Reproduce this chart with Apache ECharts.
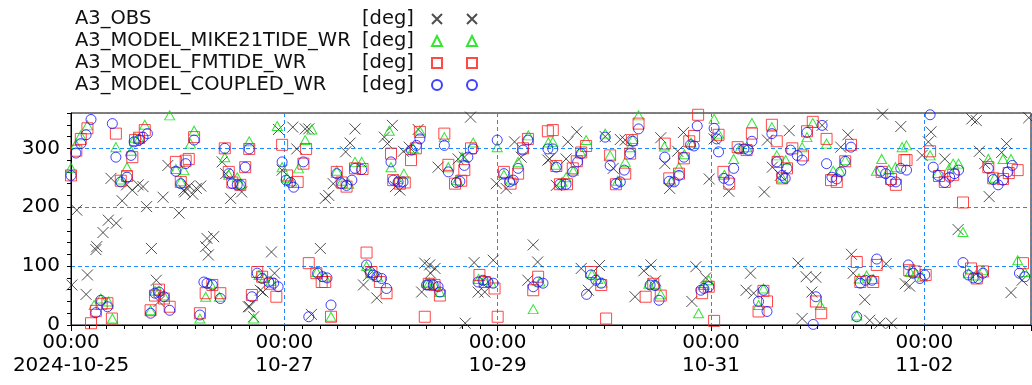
<!DOCTYPE html>
<html>
<head>
<meta charset="utf-8">
<script src="https://cdn.jsdelivr.net/npm/echarts@6/dist/echarts.min.js"></script>
<style>
  html, body { margin: 0; padding: 0; background: #fff; }
  #chart { width: 1032px; height: 385px; }
</style>
</head>
<body>
<div id="chart"></div>
<script>
// x = hours since 2024-10-25 00:00, y = direction in degrees
var seriesNames = ['A3_OBS', 'A3_MODEL_MIKE21TIDE_WR', 'A3_MODEL_FMTIDE_WR', 'A3_MODEL_COUPLED_WR'];
var unitLabel = '[deg]';
var xLabelDates = ['2024-10-25', '10-27', '10-29', '10-31', '11-02'];
var yLabelValues = [0, 100, 200, 300];

var obsDeg = [
  [0.2,68],[1.3,195],[3.4,52],[3.7,85],[5.6,128],[5.8,133],[7.2,157],[8.4,178],[9,249],[10.2,173],
  [11.5,211],[12.5,238],[13.8,229],[15.1,238],[16.2,235],[17,201],[18.1,130],[19.2,76],[19.8,40],[20.7,217],
  [21.8,271],[24.3,190],[25.4,229],[25.6,226],[26.6,236],[27.4,222],[28.2,232],[29.2,236],
  [30.3,133],[30.6,147],[30.9,119],[32.1,150],[34,277],[34.8,257],[35.9,215],[38.4,226],[39.9,31],[40.2,31],
  [41.1,14],[42.6,59],[43.2,56],[45.1,124],[45.8,88],[46.7,332],[47.5,263],[49.9,336],[50.8,299],[52.7,333],
  [53.5,333],[54.1,18],[56.1,130],[57.2,215],[58,220],[59,240],[61.8,294],[62.8,309],[63.9,333],[65.8,68],
  [66.9,84],[68.8,46],[70.5,319],[71.2,308],[72.3,339],[73,235],[74,229],[74.8,295],[76.1,302],[78.1,332],
  [78.9,56],[79.6,105],[80.7,102],[81.9,96],[80.9,88],[82.6,268],[87.1,282],[88.5,285],[89.9,353],[88.7,3],
  [90.7,106],[91.6,56],[93.1,56],[95,110],[95.7,240],[97.9,232],[99.8,311],[101.3,285],[102.8,76],[104,136],
  [105,107],[107.3,280],[107.7,282],[109.2,237],[111.4,282],[111.8,311],[113.8,328],[114.8,96],[116.4,59],[118.9,101],
  [120.2,320],[122,266],[123.6,315],[124.7,314],[126.9,48],[128.9,92],[130.5,102],[131.5,75],[132.7,318],[133.6,274],
  [134.7,232],[136.5,295],[137.8,327],[139.7,40],[140.6,99],[142.8,80],[143.6,248],[144.7,316],[148,227],[151.9,59],
  [152.9,88],[153.6,54],[156,226],[156.7,314],[157.8,268],[159.6,254],[161.6,330],[163.6,105],[164.5,11],[165.4,82],
  [166.7,56],[167.6,81],[169,339],[173.2,302],[174.8,323],[175.6,120],[176,88],[178.6,43],[179.7,8],[182,3],
  [183.4,104],[182.6,358],[184.6,3],[186.7,337],[187.7,70],[188.7,66],[191.5,288],[192.9,311],[193.5,328],[196.6,282],
  [199.6,162],[202.7,350],[203.7,347],[204.4,295],[205.6,274],[206.6,218],[209.4,293],[210.5,308],[211.5,55],[214,76],
  [215.5,352]
];

var mike21Deg = [
  [0,267],[1.1,307],[2.2,322],[3.7,339],[5.2,34],[6.7,45],[8.4,40],[9.3,11],[10.1,302],[11.2,247],
  [12.6,268],[13.5,296],[14.4,318],[15.3,316],[16.6,340],[17.9,25],[18.9,58],[19.8,58],[20.9,50],[22.2,356],
  [23.6,265],[24.7,244],[25.4,263],[26.9,308],[27.7,330],[29,11],[30.3,48],[31.4,70],[33.4,48],[34.6,285],
  [35.5,255],[37.4,251],[38.1,240],[40.1,312],[41.1,11],[42.3,85],[43.5,80],[45,75],[46.4,338],[47.5,268],
  [48.6,250],[49.6,244],[51.2,266],[52.7,314],[54.2,332],[55.3,90],[57.1,82],[58.5,14],[59.8,262],[61,245],
  [62.5,240],[63.9,277],[65.4,277],[66.5,100],[67.5,88],[69,82],[71.6,330],[72,268],[73.5,248],[74.9,257],
  [77,300],[78.5,330],[80,72],[80.6,72],[81.6,70],[83,56],[84,319],[84.9,268],[86.9,246],[88,285],
  [90.5,310],[91.7,78],[93,76],[94.5,72],[95.9,302],[97.4,255],[99,247],[100.6,277],[102.9,322],[104,27],
  [105.5,74],[107.4,310],[108.4,311],[109,272],[110.5,243],[111.4,251],[113,262],[114.6,295],[115.9,314],[117.2,86],
  [118.5,78],[119.5,72],[120.2,325],[121.3,288],[123,245],[124.7,277],[125.8,302],[126.4,316],[127.7,356],[130,70],
  [131.5,70],[132.7,52],[133.5,303],[135,245],[136.8,268],[138,290],[139.5,310],[141.2,20],[142.4,68],[143.5,76],
  [144.7,350],[145.7,325],[147,255],[149.1,282],[150.5,300],[152,302],[153.2,343],[154.7,34],[155.8,62],[157.7,336],
  [158.8,288],[160,250],[160.8,280],[164.5,302],[165.6,319],[166.9,343],[168.6,34],[170,308],[171.5,262],[173,262],
  [174.2,280],[176.8,16],[177.3,79],[179,84],[180.5,78],[181.2,262],[182.4,282],[184,264],[185.5,268],[187,302],
  [188,305],[188.8,90],[190,88],[191.5,82],[193.3,288],[195,258],[197.5,265],[198.5,274],[199.7,274],[200.7,158],
  [202,88],[203.5,84],[205.2,93],[206.4,282],[207.8,250],[209.7,282],[211.5,282],[213,110],[214.6,90]
];

var fmDeg = [
  [0,254],[1.2,296],[2.2,316],[3.7,334],[4.5,3],[5.6,24],[6.9,36],[8.2,37],[9.2,11],[10.1,325],
  [11.2,245],[12.6,253],[13.8,285],[14.4,314],[15.3,318],[16.6,331],[17.9,25],[18.9,50],[19.8,60],[20.9,45],
  [22.2,31],[23.6,277],[24.7,243],[25.8,279],[26.5,282],[27.7,319],[29,20],[30.3,54],[31.8,68],[33.6,54],
  [34.6,300],[35.5,260],[36.3,242],[38.1,238],[39.2,268],[40.1,299],[40.7,51],[41.9,90],[43,82],[44.8,70],
  [46.2,48],[47.5,306],[48.6,254],[51,243],[52.3,274],[52.9,299],[53.5,105],[55.2,88],[56.4,73],[57.2,73],
  [58.5,14],[59.8,260],[60.9,242],[62,235],[63.9,266],[65.6,265],[66.5,123],[67.6,90],[69.5,73],[71,54],
  [72,291],[72.5,246],[74,240],[75.1,242],[76.5,280],[77.6,300],[78.5,328],[79.6,14],[80.5,70],[81.8,68],
  [83,50],[84,325],[84.9,272],[86.4,240],[87.8,245],[88.5,263],[90,300],[91.9,85],[93.1,73],[95.3,62],
  [96,14],[97.4,260],[98.9,240],[100.6,257],[101.7,300],[102.8,316],[104,59],[105.1,82],[107.3,329],[108.4,331],
  [109.2,270],[110,239],[111.6,239],[112.9,266],[113.8,278],[114.8,293],[115.9,304],[117,90],[119.3,68],[120.4,11],
  [121.3,288],[122.6,239],[124.7,257],[125.8,291],[126.2,314],[127.7,342],[129.3,48],[131,70],[132.7,50],[133.6,308],
  [134.6,249],[136.8,257],[137.9,283],[139.1,312],[140.2,321],[141.1,357],[142,54],[143.5,65],[144.7,7],[145.7,323],
  [146.8,260],[148.1,240],[150,302],[152,297],[153.2,325],[154.7,23],[155.8,58],[156.6,40],[157.7,340],[158.8,312],
  [159,277],[160,249],[161.1,266],[162.3,300],[164.7,288],[165.6,329],[166.9,345],[167.6,40],[168.8,20],[170,316],
  [171,246],[172.3,243],[174.2,278],[175.5,306],[176.8,107],[177.6,73],[180.5,73],[181.3,102],[182.4,260],[184.5,248],
  [185.6,238],[187.5,280],[188,280],[188.6,93],[189.8,91],[192.3,85],[193.3,295],[195.3,253],[196.6,243],[198.5,255],
  [200.7,208],[202.5,96],[203.8,79],[205.2,91],[206.4,268],[207.5,249],[209.7,248],[211,258],[213,263],[214.2,105]
];

var coupledDeg = [
  [0,254],[1.1,292],[2.2,308],[3.4,323],[4.5,349],[5.6,21],[6.7,42],[8.2,31],[9.3,342],[10.1,285],
  [11.2,243],[12.6,251],[13.5,288],[14.2,311],[15.3,314],[16.2,319],[17.2,325],[17.9,20],[18.9,54],[19.8,56],
  [20.9,48],[22.2,25],[23.6,261],[24.7,240],[25.8,274],[27.7,314],[29,17],[29.9,73],[30.6,71],[31.8,68],
  [33.6,45],[34.6,300],[35.5,257],[36.3,240],[37.4,238],[38.1,238],[39.2,268],[40.1,299],[40.7,48],[41.9,88],
  [43,79],[44.5,73],[45.6,71],[46.6,65],[47.5,277],[48.4,246],[49.4,242],[50.1,234],[52.3,277],[53.5,14],
  [55.5,88],[56.6,82],[57.6,80],[58.5,34],[59.8,257],[60.9,240],[62,237],[63.2,246],[63.9,266],[65.4,264],
  [66.5,102],[67.3,90],[68,85],[68.8,82],[69.9,79],[71,62],[72,277],[72.5,246],[73.6,243],[74.7,243],
  [76.6,297],[77.7,305],[78.5,316],[80,68],[80.4,68],[81.5,68],[82.6,65],[83,56],[84,305],[84.9,260],
  [86.7,242],[87.5,244],[88.5,271],[89.3,285],[90.5,299],[91.6,73],[92.7,76],[93.8,73],[95,71],[95.9,314],
  [97.4,257],[98.7,243],[99.5,246],[100.6,266],[101.7,297],[102.8,314],[104,65],[105.1,73],[106.2,71],[107.3,299],
  [108.4,299],[109.2,268],[110,239],[111.4,239],[112.9,260],[114,277],[114.8,291],[116,52],[117,85],[118.1,76],
  [119.3,71],[120.2,319],[121.3,271],[122.6,240],[123.6,243],[124.5,263],[125.8,291],[126.4,312],[127.7,333],[130.3,68],
  [131.4,67],[132.3,42],[133.6,285],[134.6,244],[135.7,243],[136.8,254],[137.9,285],[139.4,306],[140.2,304],[140.9,338],
  [141.7,59],[142.4,62],[143.5,65],[144.7,334],[145.3,316],[145.7,294],[146.9,249],[148.1,246],[149.1,266],[150.2,299],
  [151.4,299],[152.4,297],[153.2,312],[154.7,40],[155.8,59],[156.6,23],[157.7,325],[158.8,277],[160,254],[160.7,249],
  [161.1,266],[161.9,297],[163.4,288],[164.5,280],[165.6,327],[167,1],[167.6,48],[169,339],[170,274],[171.2,251],
  [172.3,248],[173.2,260],[174.2,278],[175.5,302],[176.8,14],[177.6,71],[178.7,76],[180.2,76],[181.3,112],[182.2,261],
  [183.3,257],[184.5,244],[185.6,243],[186.7,266],[188,263],[188.4,102],[189.5,88],[191,79],[192.1,85],[193.3,357],
  [194,268],[195.1,254],[196.6,242],[197.7,251],[198.8,257],[199.7,263],[200.7,106],[201.9,85],[203,80],[204.1,79],
  [205.2,88],[206.4,266],[207.5,247],[208.6,238],[209.7,246],[210.8,260],[211.8,271],[213.4,88],[214.6,82]
];

var FONT = '"DejaVu Sans", Verdana, sans-serif';
var gridBlue = '#1e8cff';

var myChart = echarts.init(document.getElementById('chart'), null, { renderer: 'canvas' });

function xLabel(h) {
  if (h % 48 !== 0) return '';
  var idx = h / 48;
  return idx < xLabelDates.length ? '00:00\n' + xLabelDates[idx] : '';
}
function yLabel(v) {
  return yLabelValues.indexOf(v) >= 0 ? String(v) : '';
}

var option = {
  animation: false,
  backgroundColor: '#fff',
  grid: { left: 71, right: 1, top: 113, bottom: 60, show: true, borderColor: '#000', borderWidth: 1 },
  legend: [{
    data: seriesNames,
    orient: 'vertical',
    left: 70,
    top: 3,
    itemGap: 0,
    align: 'right',
    itemWidth: 10,
    itemHeight: 10,
    selectedMode: false,
    formatter: function (name) { return '{n|' + name + '}{u|' + unitLabel + '}'; },
    textStyle: {
      fontFamily: FONT, fontSize: 19.5, color: '#111',
      rich: {
        n: { width: 287, fontFamily: FONT, fontSize: 19.5, color: '#111', lineHeight: 22, height: 22, align: 'left' },
        u: { width: 65, fontFamily: FONT, fontSize: 19.5, color: '#111', lineHeight: 22, height: 22, align: 'left' }
      }
    }
  }, {
    data: seriesNames,
    orient: 'vertical',
    left: 461,
    top: 3,
    itemGap: 0,
    align: 'left',
    itemWidth: 10,
    itemHeight: 10,
    selectedMode: false,
    formatter: function () { return '{e| }'; },
    textStyle: { fontSize: 19.5, rich: { e: { width: 1, height: 22, lineHeight: 22, fontSize: 19.5 } } }
  }],
  xAxis: [{
    type: 'value',
    min: 0, max: 216, interval: 4,
    position: 'bottom',
    axisLine: { show: true, lineStyle: { color: '#000', width: 1 } },
    axisTick: { show: true, length: 4, lineStyle: { color: '#000' } },
    splitLine: { show: false },
    axisLabel: {
      formatter: xLabel, margin: 6, color: '#000',
      fontFamily: FONT, fontSize: 20, lineHeight: 23,
      showMaxLabel: false
    }
  }, {
    type: 'value',
    min: 0, max: 216, interval: 48,
    position: 'bottom',
    axisLine: { show: false },
    axisTick: { show: true, length: 6, lineStyle: { color: '#000' } },
    axisLabel: { show: false },
    splitLine: { show: true, lineStyle: { color: gridBlue, type: [4, 3], width: 1 } }
  }],
  yAxis: [{
    type: 'value',
    min: 0, max: 360, interval: 20,
    position: 'left',
    axisLine: { show: true, lineStyle: { color: '#000', width: 1 } },
    axisTick: { show: true, length: 4, lineStyle: { color: '#000' } },
    splitLine: { show: false },
    axisLabel: { formatter: yLabel, margin: 11, color: '#000', fontFamily: FONT, fontSize: 20 }
  }, {
    type: 'value',
    min: 0, max: 360, interval: 100,
    position: 'left',
    axisLine: { show: false },
    axisTick: { show: false },
    axisLabel: { show: false },
    splitLine: { show: true, lineStyle: { color: gridBlue, type: [4, 3], width: 1 } }
  }],
  series: [{
    name: seriesNames[0],
    type: 'scatter',
    symbol: 'path://M0,0L10,10M10,0L0,10',
    symbolSize: 11,
    itemStyle: { color: 'transparent', borderColor: '#222', borderWidth: 1 },
    data: obsDeg
  }, {
    name: seriesNames[1],
    type: 'scatter',
    symbol: 'triangle',
    symbolSize: [10, 9],
    itemStyle: { color: 'transparent', borderColor: '#00e000', borderWidth: 1 },
    data: mike21Deg
  }, {
    name: seriesNames[2],
    type: 'scatter',
    symbol: 'rect',
    symbolSize: 11,
    itemStyle: { color: 'transparent', borderColor: '#ff1a1a', borderWidth: 1 },
    data: fmDeg
  }, {
    name: seriesNames[3],
    type: 'scatter',
    symbol: 'circle',
    symbolSize: 10,
    itemStyle: { color: 'transparent', borderColor: '#1010ff', borderWidth: 1 },
    data: coupledDeg
  }]
};

myChart.setOption(option);
</script>
</body>
</html>
